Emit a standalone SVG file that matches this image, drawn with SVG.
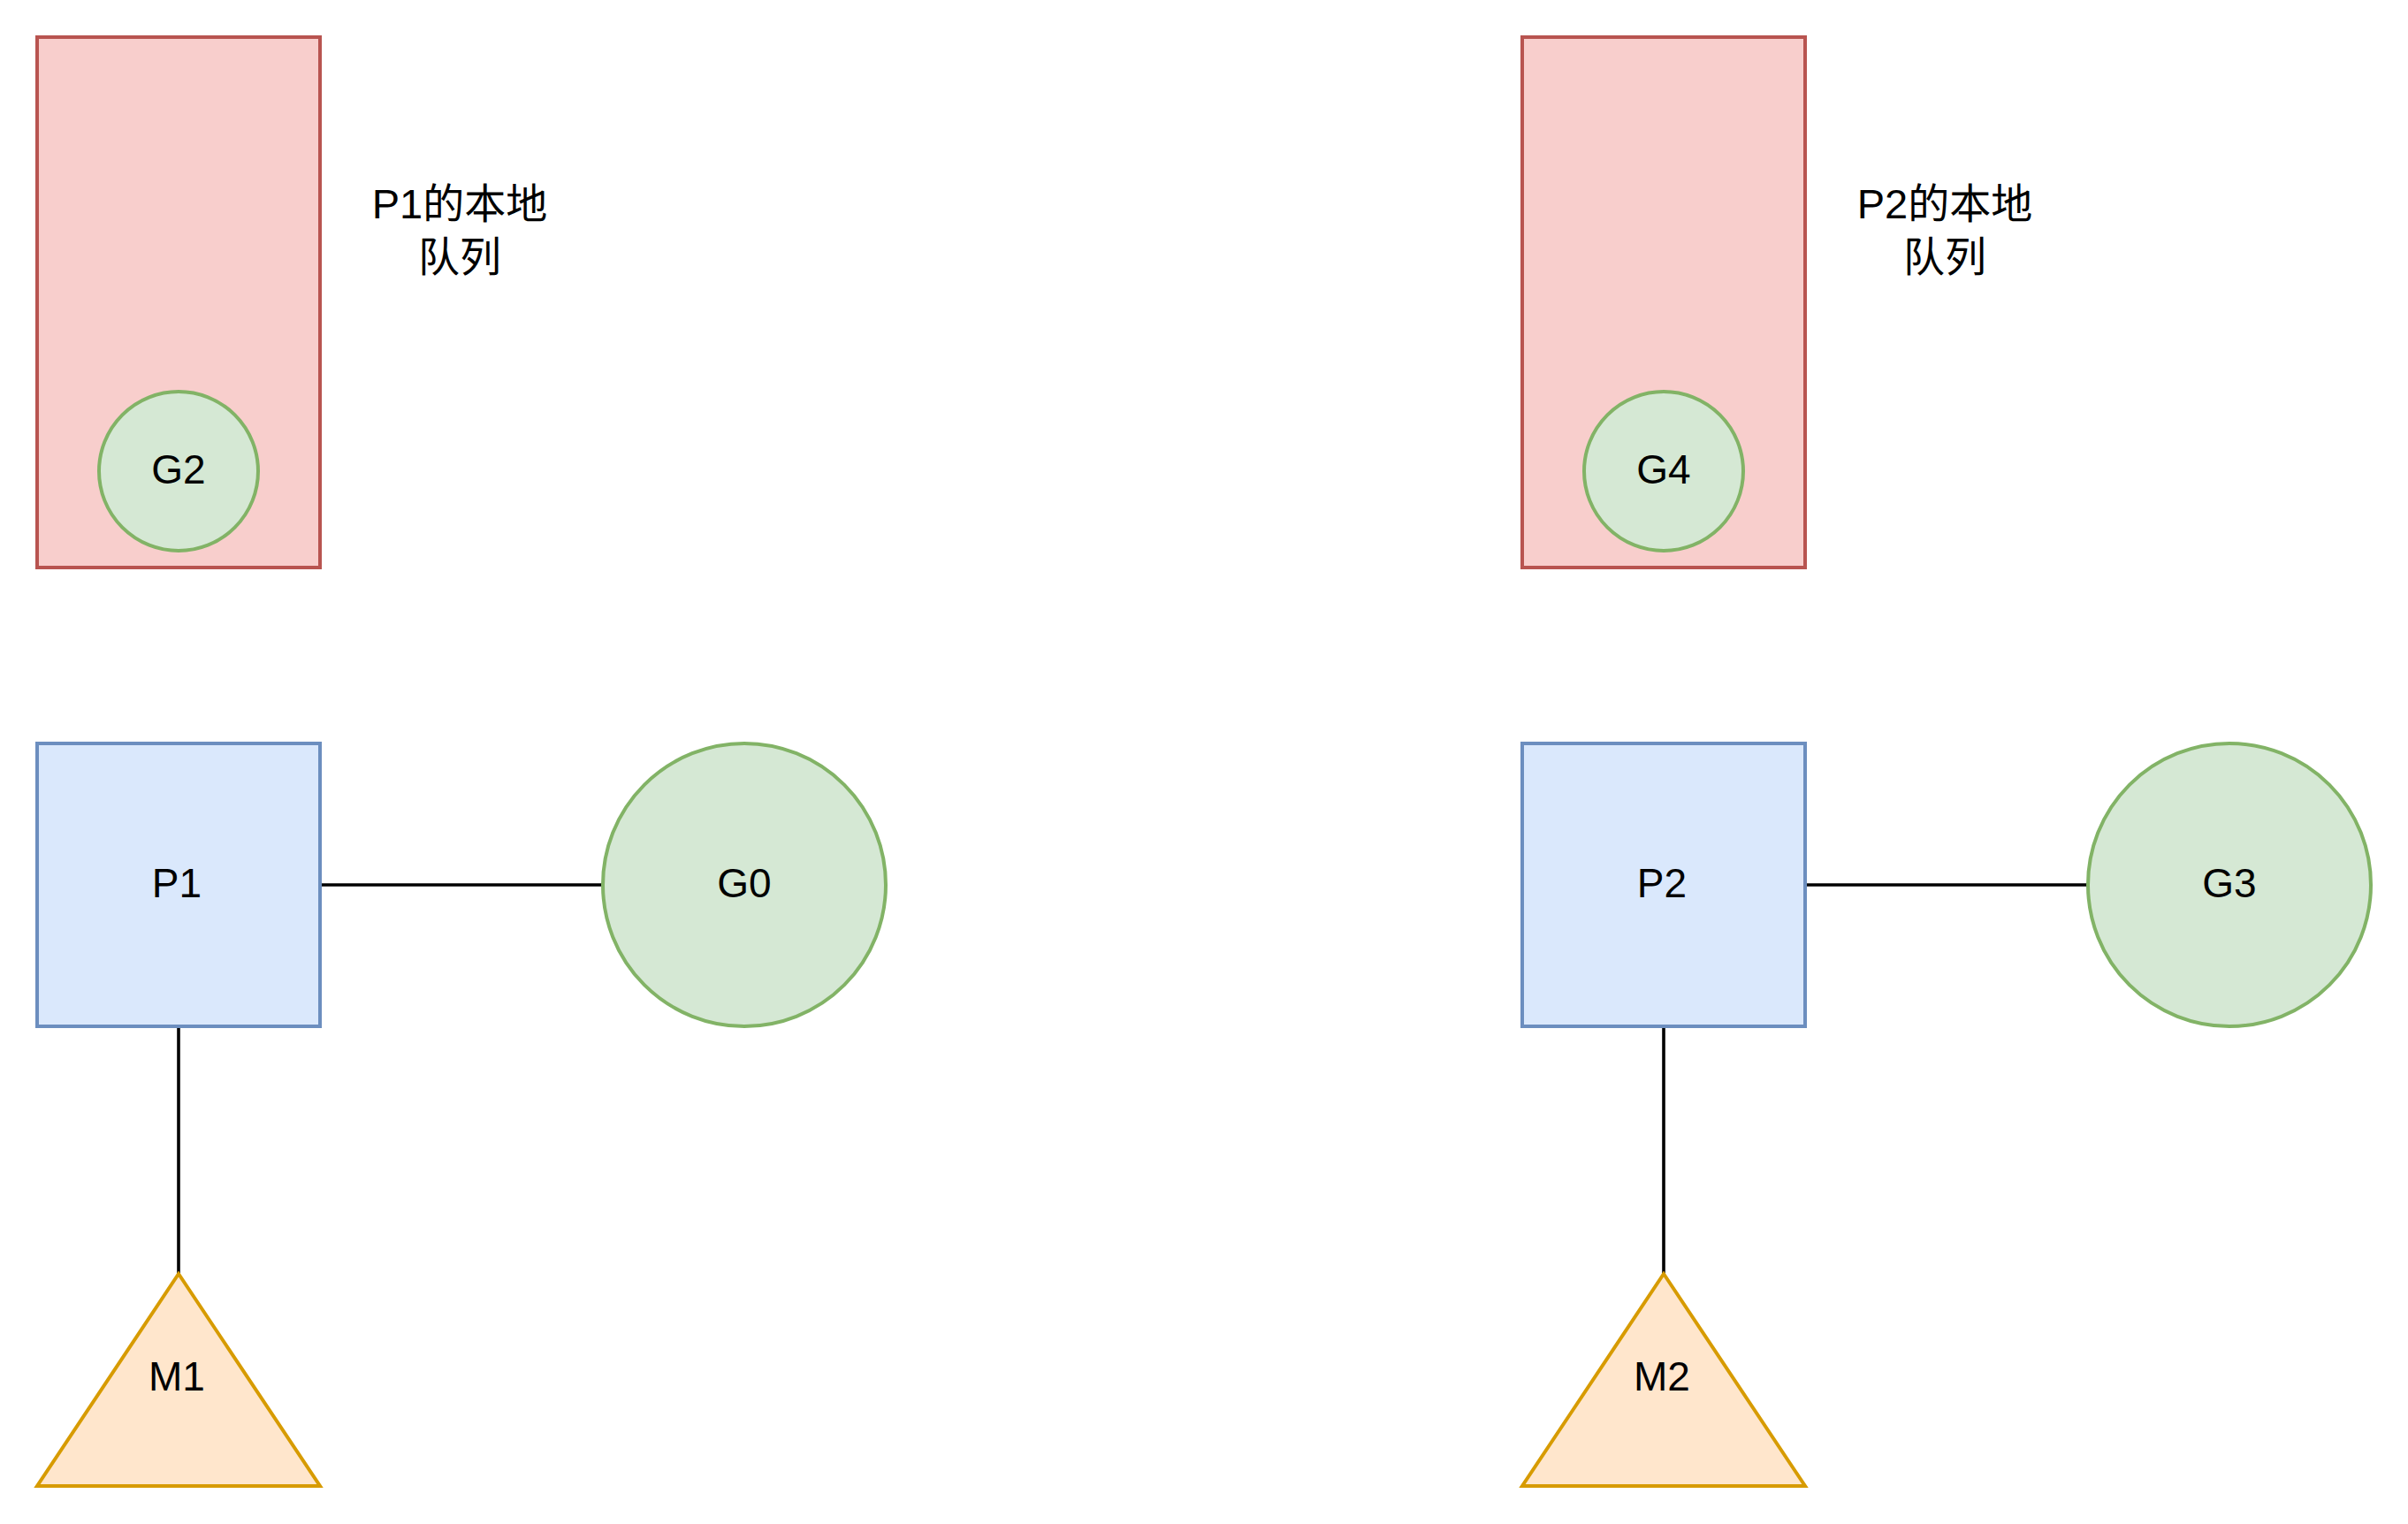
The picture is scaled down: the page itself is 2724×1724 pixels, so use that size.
<svg xmlns="http://www.w3.org/2000/svg" width="2724" height="1724" viewBox="0 0 2724 1724">
<style>
text{font-family:"Liberation Sans","Noto Sans CJK SC",Arial,sans-serif;font-size:46px;fill:#000;text-anchor:middle}
.lbl{font-size:47px}
.q{fill:#f8cecc;stroke:#b85450;stroke-width:4}
.p{fill:#dae8fc;stroke:#6c8ebf;stroke-width:4}
.g{fill:#d5e8d4;stroke:#82b366;stroke-width:4}
.m{fill:#ffe6cc;stroke:#d79b00;stroke-width:4}
.c{stroke:#000;stroke-width:3.6;fill:none}
</style>
<rect width="2724" height="1724" fill="#fff"/>
<g id="connectors">
<line class="c" x1="362" y1="1001" x2="682" y2="1001"/>
<line class="c" x1="202" y1="1161" x2="202" y2="1441"/>
<line class="c" x1="2042" y1="1001" x2="2362" y2="1001"/>
<line class="c" x1="1882" y1="1161" x2="1882" y2="1441"/>
</g>
<g id="queue1"><rect class="q" x="42" y="42" width="320" height="600"/></g>
<g id="g2"><circle class="g" cx="202" cy="533" r="90"/><text x="202" y="547">G2</text></g>
<g id="label1"><text class="lbl" x="520" y="247">P1的本地</text><text class="lbl" x="520" y="307">队列</text></g>
<g id="p1"><rect class="p" x="42" y="841" width="320" height="320"/><text x="200" y="1015">P1</text></g>
<g id="g0"><circle class="g" cx="842" cy="1001" r="160"/><text x="842" y="1015">G0</text></g>
<g id="m1"><polygon class="m" points="202,1441 362,1681 42,1681"/><text x="200" y="1573">M1</text></g>
<g id="queue2"><rect class="q" x="1722" y="42" width="320" height="600"/></g>
<g id="g4"><circle class="g" cx="1882" cy="533" r="90"/><text x="1882" y="547">G4</text></g>
<g id="label2"><text class="lbl" x="2200" y="247">P2的本地</text><text class="lbl" x="2200" y="307">队列</text></g>
<g id="p2"><rect class="p" x="1722" y="841" width="320" height="320"/><text x="1880" y="1015">P2</text></g>
<g id="g3"><circle class="g" cx="2522" cy="1001" r="160"/><text x="2522" y="1015">G3</text></g>
<g id="m2"><polygon class="m" points="1882,1441 2042,1681 1722,1681"/><text x="1880" y="1573">M2</text></g>
</svg>
